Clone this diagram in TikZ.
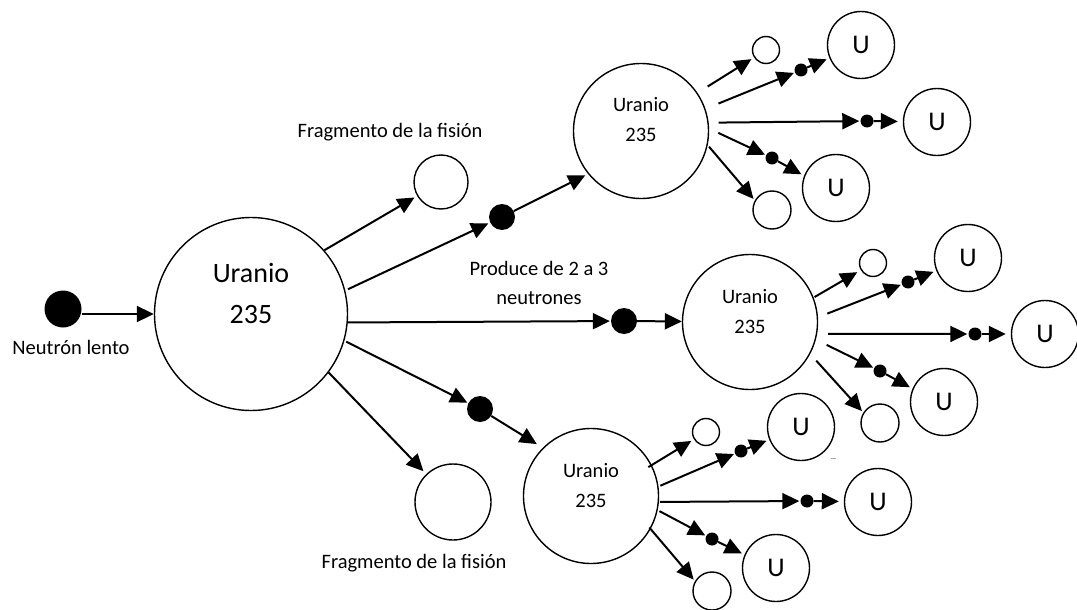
\documentclass[tikz,border=0pt]{standalone}
\usepackage{fontspec}
\setmainfont{Carlito}
\usetikzlibrary{arrows.meta}
\tikzset{
  circ/.style={circle, draw, line width=1.4pt, inner sep=0pt, fill=white, minimum size=#1},
  dotn/.style={circle, fill=black, draw=none, inner sep=0pt, minimum size=#1},
  unode/.style={circ=67pt, font=\fontsize{27}{30}\selectfont},
  arr/.style={line width=2pt, -{Triangle[length=17pt,width=16pt]}},
  lbl/.style={font=\fontsize{20.5}{29}\selectfont, align=center, inner sep=0pt},
  midtxt/.style={font=\fontsize{20.5}{30}\selectfont, align=center, inner sep=0pt},
  bigtxt/.style={font=\fontsize{28}{41}\selectfont, align=center, inner sep=0pt},
}
\begin{document}
\begin{tikzpicture}[x=1pt,y=-1pt]
\useasboundingbox (0,0) rectangle (1077,610);

% ---------- main nodes ----------
\node[dotn=37pt] (n0) at (63,309) {};
\node[circ=193pt] (U0) at (251,314) {};
\node[bigtxt] (U0t) at (251,293.5) {Uranio\\235};
\node[circ=54pt] (f1) at (441,182) {};
\node[circ=76pt] (f2) at (453,502) {};
\node[dotn=26pt] (dT) at (502,217) {};
\node[dotn=26pt] (dM) at (624,321) {};
\node[dotn=26pt] (dB) at (480,409) {};

% ---------- secondary uranium ----------
\node[circ=135pt] (T) at (641,131) {};
\node[midtxt] (Tt) at (641,120) {Uranio\\235};
\node[circ=135pt] (M) at (750,322) {};
\node[midtxt] (Mt) at (750,312) {Uranio\\235};
\node[circ=135pt] (B) at (591,496) {};
\node[midtxt] (Bt) at (591,486) {Uranio\\235};

% ---------- top cluster ----------
\node[circ=27pt] (st1) at (766,50) {};
\node[dotn=13pt] (d1) at (801,70) {};
\node[unode] (U1) at (861,45) {U};
\node[dotn=13pt] (d2) at (867,121) {};
\node[unode] (U2) at (937,122) {U};
\node[dotn=13pt] (d3) at (772,158) {};
\node[unode] (U3) at (836,188) {U};
\node[circ=38pt] (sb1) at (772,210) {};

% ---------- middle cluster ----------
\node[circ=27pt] (st2) at (873,263) {};
\node[dotn=13pt] (d4) at (908,282) {};
\node[unode] (U4) at (968,258) {U};
\node[dotn=13pt] (d5) at (975,334) {};
\node[unode] (U5) at (1045,334) {U};
\node[dotn=13pt] (d6) at (880,371) {};
\node[unode] (U6) at (944,402) {U};
\node[circ=38pt] (sb2) at (880,423) {};

% ---------- bottom cluster ----------
\node[circ=27pt] (st3) at (706,432) {};
\node[dotn=13pt] (d7) at (741,451) {};
\node[unode] (U7) at (801,427) {U};
\node[dotn=13pt] (d8) at (807,501) {};
\node[unode] (U8) at (878,502) {U};
\node[dotn=13pt] (d9) at (712,539) {};
\node[unode] (U9) at (776,568) {U};
\node[circ=38pt] (sb3) at (712,591) {};

% ---------- labels ----------
\node[lbl] (lab0) at (71,347) {Neutrón lento};
\node[lbl] (labf1) at (390,132) {Fragmento de la fisión};
\node[lbl] (labf2) at (414,563) {Fragmento de la fisión};
\node[lbl] (labp) at (539,282.5) {Produce de 2 a 3\\neutrones};

% ---------- main arrows ----------
\draw[arr] (n0.east |- U0.west) -- (U0.west);
\draw[arr, shorten >=3pt] (U0.41) -- (f1);
\draw[arr, shorten <=3pt, shorten >=2pt] (U0.14) -- (dT);
\draw[arr, shorten >=3pt] (dT) -- (T.-141);
\draw[arr, shorten >=1pt] (U0.-5) -- (dM);
\draw[arr] (dM) -- (M);
\draw[arr, shorten <=2pt, shorten >=1pt] (U0.-16) -- (dB);
\draw[arr, shorten >=7pt] (dB) -- (B.135);
\draw[arr, shorten >=4pt] (U0.-37) -- (f2);

% ---------- top cluster arrows ----------
\draw[arr, shorten <=12pt, shorten >=3pt] (T.34) -- (st1);
\draw[arr, shorten <=14pt, shorten >=1pt] (T.19) -- (d1);
\draw[arr, shorten >=3pt] (d1) -- (U1);
\draw[arr, shorten <=10pt, shorten >=1pt] (T.7) -- (d2);
\draw[arr, shorten >=5pt] (d2) -- (U2);
\draw[arr, shorten <=10pt, shorten >=1pt] (T.2) -- (d3);
\draw[arr, shorten >=3pt] (d3) -- (U3.159);
\draw[arr, shorten <=2pt, shorten >=2pt] (T.-12) -- (sb1.151);

% ---------- middle cluster arrows ----------
\draw[arr, shorten <=1pt, shorten >=4pt] (M.21) -- (st2);
\draw[arr, shorten <=10pt, shorten >=1pt] (M.4) -- (d4);
\draw[arr, shorten >=3pt] (d4) -- (U4);
\draw[arr, shorten <=11pt, shorten >=1pt] (M.-10) -- (d5);
\draw[arr, shorten >=5pt] (d5) -- (U5);
\draw[arr, shorten <=12pt, shorten >=1pt] (M.-15) -- (d6);
\draw[arr, shorten >=3pt] (d6) -- (U6.157);
\draw[arr, shorten <=9pt, shorten >=2pt] (M.-28) -- (sb2.148);

% ---------- bottom cluster arrows ----------
\draw[arr, shorten <=-4pt, shorten >=3pt] (B.27) -- (st3);
\draw[arr, shorten <=2pt, shorten >=1pt] (B.8) -- (d7);
\draw[arr, shorten >=3pt] (d7) -- (U7);
\draw[arr, shorten <=1pt, shorten >=1pt] (B.-5) -- (d8);
\draw[arr, shorten >=5pt] (d8) -- (U8);
\draw[arr, shorten <=2pt, shorten >=1pt] (B.-12) -- (d9);
\draw[arr, shorten >=3pt] (d9) -- (U9.157);
\draw[arr, shorten <=-2pt, shorten >=2pt] (B.-29) -- (sb3.150);

% small stray mark
\draw[gray!70, line width=0.6pt] (831,458) -- (836,458);
\end{tikzpicture}
\end{document}
